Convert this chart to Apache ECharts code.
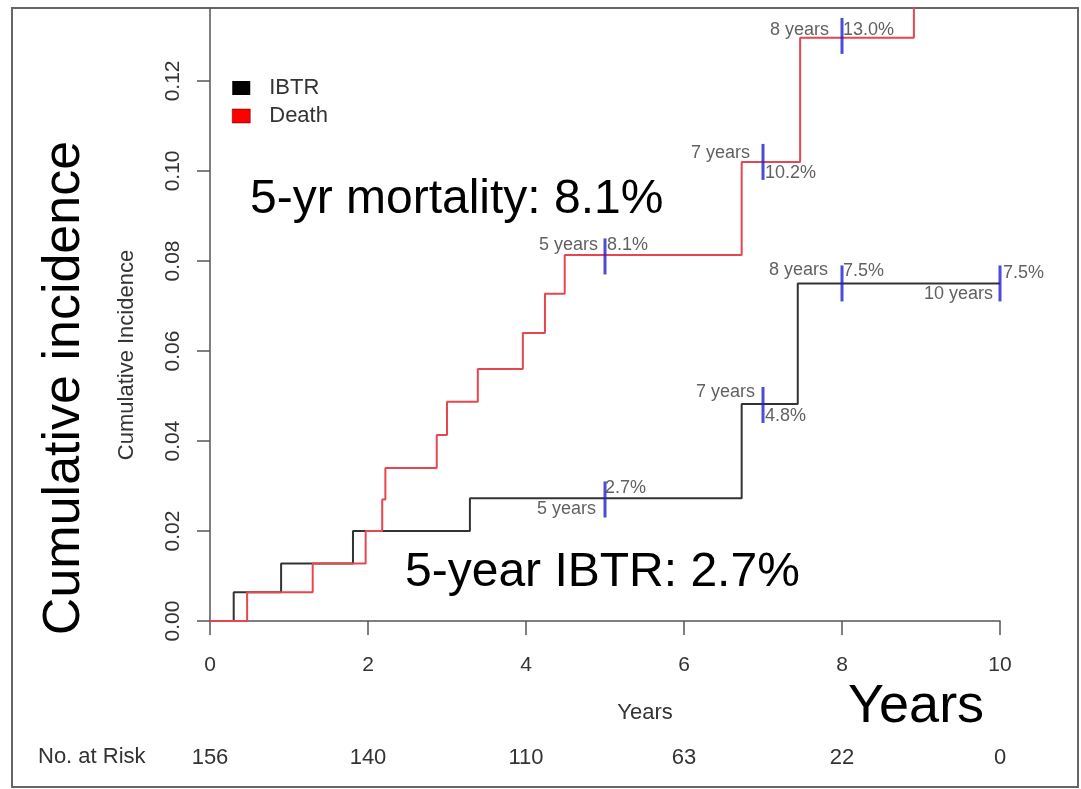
<!DOCTYPE html>
<html>
<head>
<meta charset="utf-8">
<script src="https://cdn.jsdelivr.net/npm/echarts@6/dist/echarts.min.js"></script>
<style>
html,body{margin:0;padding:0;background:#fff;}
#chart{width:1081px;height:789px;}
</style>
</head>
<body>
<div id="chart"></div>
<script>
// ---- data ----
const seriesNames = ['IBTR', 'Death'];
// step points [years, cumulative incidence]
const ibtrSteps = [[0,0],[0.30,0.0064],[0.90,0.0128],[1.81,0.0200],[3.29,0.0273],[6.73,0.0482],[7.44,0.0750],[10,0.0750]];
const deathSteps = [[0,0],[0.47,0.0064],[1.30,0.0128],[1.97,0.0200],[2.18,0.0270],[2.22,0.0340],[2.87,0.0413],[3.00,0.0487],[3.39,0.0560],[3.96,0.0640],[4.24,0.0727],[4.49,0.0813],[6.73,0.1020],[7.47,0.1296],[8.91,0.1500]];
// landmark markers
const ibtrMarkTimes = [5, 7, 8, 10];
const ibtrMarkVals = [0.027, 0.048, 0.075, 0.075];
const deathMarkTimes = [5, 7, 8];
const deathMarkVals = [0.081, 0.102, 0.130];
// axes
const xTicks = [0, 2, 4, 6, 8, 10];
const yTicks = [0, 0.02, 0.04, 0.06, 0.08, 0.10, 0.12];
const riskTimes = [0, 2, 4, 6, 8, 10];
const riskNumbers = [156, 140, 110, 63, 22, 0];
const annotations = ['5-yr mortality: 8.1%', '5-year IBTR: 2.7%'];

// ---- label placement (style only) ----
// [distance, dy] for "N years" (left of marker) and "x%" (right of marker)
const ibtrYearsLbl = [[9, 10], [8, -13], [14, -13], [7, 11]];
const ibtrPctLbl = [[0, -11], [2, 11], [1, -12], [3, -10]];
const deathYearsLbl = [[7, -11], [13, -9], [13, -6]];
const deathPctLbl = [[2, -11], [2, 11], [1, -6]];

const FONT = 'Liberation Sans, Arial, sans-serif';
const TXT = '#333';

function yearsLabels(times, vals, lbl) {
  return times.map((t, i) => ({
    value: [t, vals[i]],
    label: {show: true, formatter: t + ' years', position: 'left', distance: lbl[i][0], offset: [0, lbl[i][1]]}
  }));
}
function pctLabels(times, vals, lbl) {
  return times.map((t, i) => ({
    value: [t, vals[i]],
    label: {show: true, formatter: (vals[i] * 100).toFixed(1) + '%', position: 'right', distance: lbl[i][0], offset: [0, lbl[i][1]]}
  }));
}
const labelStyle = {fontFamily: FONT, fontSize: 18, color: '#383838'};

const chart = echarts.init(document.getElementById('chart'));
chart.setOption({
  backgroundColor: '#fff',
  animation: false,
  textStyle: {fontFamily: FONT},
  grid: {left: 210, right: 81, top: 8, bottom: 168, containLabel: false},
  legend: {
    data: [{name: 'IBTR', itemStyle: {color: '#000'}}, {name: 'Death', itemStyle: {color: '#ff0000', borderColor: '#400', borderWidth: 0.5}}],
    orient: 'vertical', left: 232, top: 77, icon: 'rect', padding: 0,
    itemWidth: 18, itemHeight: 14, itemGap: 6,
    textStyle: {fontFamily: FONT, fontSize: 22, color: TXT, padding: [0, 0, 0, 14]}
  },
  xAxis: [{
    type: 'value', min: 0, max: 10, interval: 2,
    name: 'Years', nameLocation: 'middle', nameGap: 81,
    nameTextStyle: {fontFamily: FONT, fontSize: 22, color: TXT, padding: [0, 0, 0, 80]},
    axisLine: {show: true, onZero: false, lineStyle: {color: '#555', width: 1.5}},
    axisTick: {show: true, inside: false, length: 14, lineStyle: {color: '#555', width: 1.5}, customValues: xTicks},
    axisLabel: {fontFamily: FONT, fontSize: 21, color: TXT, margin: 34, customValues: xTicks},
    splitLine: {show: false}
  }, {
    type: 'value', min: 0, max: 10, interval: 2, position: 'bottom', offset: 118,
    axisLine: {show: false}, axisTick: {show: false},
    axisLabel: {fontFamily: FONT, fontSize: 22, color: TXT, margin: 8, customValues: riskTimes,
      formatter: v => { const i = riskTimes.indexOf(v); return i >= 0 ? String(riskNumbers[i]) : ''; }},
    splitLine: {show: false}
  }],
  yAxis: {
    type: 'value', min: 0, max: 0.1362,
    name: 'Cumulative Incidence', nameLocation: 'middle', nameGap: 72,
    nameTextStyle: {fontFamily: FONT, fontSize: 22, color: TXT, padding: [0, 81, 0, 0]},
    axisLine: {show: true, onZero: false, lineStyle: {color: '#555', width: 1.5}},
    axisTick: {show: true, length: 13, lineStyle: {color: '#555', width: 1.5}, customValues: yTicks},
    axisLabel: {fontFamily: FONT, fontSize: 21, color: TXT, rotate: 90, margin: 26, customValues: yTicks,
      formatter: v => v.toFixed(2)},
    splitLine: {show: false}
  },
  series: [
    {name: 'IBTR', type: 'line', step: 'end', data: ibtrSteps, symbol: 'none',
      lineStyle: {color: '#333', width: 2}, itemStyle: {color: '#000'}, z: 3},
    {name: 'Death', type: 'line', step: 'end', data: deathSteps, symbol: 'none',
      lineStyle: {color: '#e8464e', width: 2}, itemStyle: {color: '#ff0000'}, z: 3},
    {name: 'marks', type: 'scatter', symbol: 'rect', symbolSize: [3, 36],
      itemStyle: {color: '#1f1fcf'}, z: 4, clip: false,
      data: ibtrMarkTimes.map((t, i) => [t, ibtrMarkVals[i]]).concat(deathMarkTimes.map((t, i) => [t, deathMarkVals[i]]))},
    {name: 'yearsLabels', type: 'scatter', symbolSize: 0, clip: false, z: 5, silent: true,
      label: labelStyle,
      data: yearsLabels(ibtrMarkTimes, ibtrMarkVals, ibtrYearsLbl).concat(yearsLabels(deathMarkTimes, deathMarkVals, deathYearsLbl))},
    {name: 'pctLabels', type: 'scatter', symbolSize: 0, clip: false, z: 5, silent: true,
      label: labelStyle,
      data: pctLabels(ibtrMarkTimes, ibtrMarkVals, ibtrPctLbl).concat(pctLabels(deathMarkTimes, deathMarkVals, deathPctLbl))}
  ],
  graphic: [
    {type: 'rect', shape: {x: 12, y: 8, width: 1066, height: 779}, style: {fill: 'none', stroke: '#666', lineWidth: 2}, z: 0, silent: true},
    {type: 'text', x: 250, y: 200, style: {text: annotations[0], font: '48px ' + FONT, fill: '#000', verticalAlign: 'middle'}},
    {type: 'text', x: 405, y: 573, style: {text: annotations[1], font: '48px ' + FONT, fill: '#000', verticalAlign: 'middle'}},
    {type: 'text', x: 65, y: 388, rotation: Math.PI / 2, style: {text: 'Cumulative incidence', font: '52px ' + FONT, fill: '#000', align: 'center', verticalAlign: 'middle'}},
    {type: 'text', x: 848, y: 707, style: {text: 'Years', font: '54px ' + FONT, fill: '#000', verticalAlign: 'middle'}},
    {type: 'text', x: 38, y: 757, style: {text: 'No. at Risk', font: '22px ' + FONT, fill: TXT, verticalAlign: 'middle'}}
  ]
});
</script>
</body>
</html>
